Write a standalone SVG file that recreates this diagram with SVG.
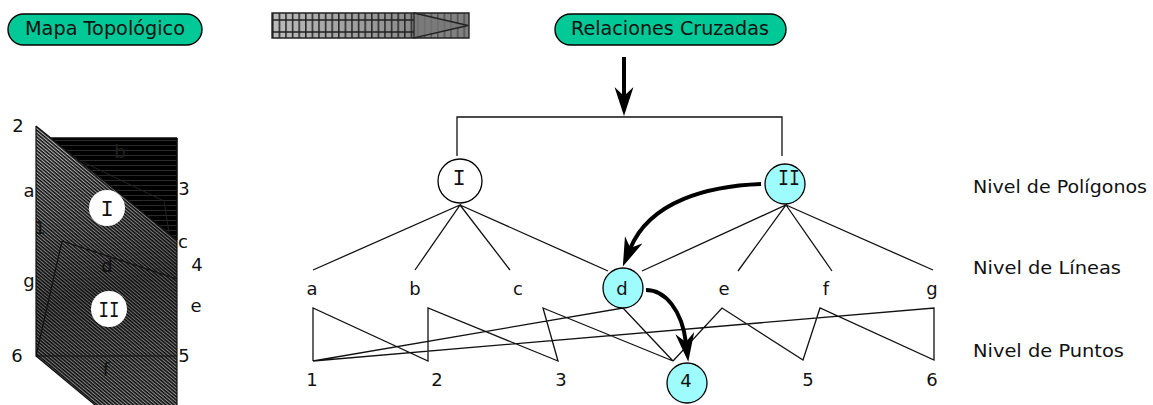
<svg xmlns="http://www.w3.org/2000/svg" width="1153" height="405" viewBox="0 0 1153 405">
<style>
text{font-family:"DejaVu Sans","Noto Sans",sans-serif;fill:#111;text-anchor:middle}
.t{font-size:19px}
.s{font-size:18px}
.r{font-size:18px;text-anchor:start}
.pill{fill:#00c896;stroke:#000;stroke-width:1.4}
.n{stroke:#000;stroke-width:1.3;fill:#fff}
.c{fill:#9ffcfc}
.l{fill:none;stroke:#111;stroke-width:1.3}
.b{fill:none;stroke:#000;stroke-width:4}
.rom{font-family:"Liberation Mono",monospace;font-size:22px}
</style>
<defs>
<pattern id="h1" width="3" height="2.6" patternUnits="userSpaceOnUse" patternTransform="rotate(40)"><rect width="3" height="2.6" fill="#b5b5b5"/><rect width="3" height="1.5" fill="#111"/></pattern>
<pattern id="h3" width="4" height="5" patternUnits="userSpaceOnUse"><rect width="4" height="5" fill="#000"/><rect width="4" height="1" fill="#2a2a2a"/></pattern>
<linearGradient id="g" x1="0" x2="1" y1="0" y2="0"><stop offset="0" stop-color="#bcbcbc"/><stop offset="1" stop-color="#777"/></linearGradient>
<linearGradient id="sh" gradientUnits="userSpaceOnUse" x1="60" y1="150" x2="130" y2="405"><stop offset="0" stop-color="#000" stop-opacity="0"/><stop offset=".55" stop-color="#000" stop-opacity=".45"/><stop offset="1" stop-color="#000" stop-opacity=".2"/></linearGradient>
<pattern id="grid" x="272" y="13" width="6.6" height="25" patternUnits="userSpaceOnUse"><path d="M0.8 0V25" stroke="#2a2a2a" stroke-width="1.6" fill="none"/></pattern>
<marker id="a" markerUnits="userSpaceOnUse" markerWidth="30" markerHeight="20" refX="10" refY="9.5" orient="auto"><path d="M0 0L29 9.5L0 19L9 9.5Z" fill="#000"/></marker>
</defs>
<g id="node-mapa"><rect class="pill" x="8" y="14" width="194" height="31" rx="15.5"/><text class="t" x="105" y="35" textLength="160" lengthAdjust="spacingAndGlyphs">Mapa Topológico</text></g>
<g id="node-flecha">
<rect x="272" y="13" width="197" height="25" fill="url(#g)"/>
<rect x="272" y="13" width="197" height="25" fill="url(#grid)"/>
<rect x="414" y="13" width="55" height="25" fill="#888" fill-opacity=".45"/>
<path d="M272 13H469V38H272ZM272 20H414M272 32H414" fill="none" stroke="#222" stroke-width="1.4"/>
<path d="M414 13L468 25.5L414 38Z" fill="#777" fill-opacity=".75" stroke="#222" stroke-width="1.3"/>
</g>
<g id="node-relaciones"><rect class="pill" x="555" y="14" width="231" height="31" rx="15.5"/><text class="t" x="670" y="35" textLength="198" lengthAdjust="spacingAndGlyphs">Relaciones Cruzadas</text></g>
<g id="mapa">
<path d="M50 138H177V240Z" fill="url(#h3)" stroke="#000"/>
<path d="M36 126L177 240V405H95L36 356Z" fill="url(#h1)"/>
<path d="M36 126L177 240V405H95L36 356Z" fill="url(#sh)"/>
<path d="M36 126V356H177M177 138V405M50 138H177M62 241L177 279M62 241L36 356M36 126L177 240M36 356L95 405" fill="none" stroke="#111" stroke-width="1.2"/>
<path d="M83 162L164 201L169 232" fill="none" stroke="#222" stroke-width="1"/>
<circle cx="107" cy="208" r="18" fill="#fff"/><text class="rom" x="107" y="216">I</text>
<circle cx="109" cy="309" r="18" fill="#fff"/><text class="rom" x="109" y="317" textLength="21" lengthAdjust="spacingAndGlyphs">II</text>
<text class="s" x="18" y="132">2</text><text class="s" x="29" y="197">a</text><text class="s" x="120" y="158" style="fill:#222">b</text><text class="s" x="184" y="195">3</text><text class="s" x="40" y="234">1</text><text class="s" x="183" y="248">c</text><text class="s" x="197" y="271">4</text><text class="s" x="107" y="272">d</text><text class="s" x="29" y="287">g</text><text class="s" x="196" y="312">e</text><text class="s" x="17" y="362">6</text><text class="s" x="184" y="362">5</text><text class="s" x="106" y="376">f</text>
</g>
<g id="conectores">
<path class="l" d="M457 156V117H782V156"/>
<path class="l" d="M313 270L460 205L415 270M460 205L510 270M460 205L608 271M642 271L786 205L738 271M786 205L832 271M786 205L933 270"/>
<path class="l" d="M313 361V308L428 361V308L558 361L543 308L673 361L623 308L313 361L934 308V360L820 308L803 360L722 308L673 361"/>
<path class="b" d="M624 57V97" marker-end="url(#a)"/>
<path class="b" d="M761 184C710 186 650 200 630 249" marker-end="url(#a)"/>
<path class="b" d="M646 290C665 290 682 310 686 343" marker-end="url(#a)"/>
</g>
<g id="node-I"><circle class="n" cx="460" cy="181" r="22"/><text class="rom" x="459" y="185">I</text></g>
<g id="node-II"><circle class="n c" cx="785" cy="184" r="20"/><text class="rom" x="789" y="185" textLength="22" lengthAdjust="spacingAndGlyphs">II</text></g>
<g id="node-d"><circle class="n c" cx="623" cy="288" r="20"/><text class="s" x="622" y="295">d</text></g>
<g id="node-4"><circle class="n c" cx="687" cy="383" r="20"/><text class="s" x="686" y="387">4</text></g>
<g id="etiquetas">
<text class="s" x="312" y="295">a</text><text class="s" x="415" y="295">b</text><text class="s" x="518" y="295">c</text><text class="s" x="724" y="295">e</text><text class="s" x="826" y="295">f</text><text class="s" x="932" y="295">g</text>
<text class="s" x="312" y="386">1</text><text class="s" x="437" y="386">2</text><text class="s" x="561" y="386">3</text><text class="s" x="808" y="386">5</text><text class="s" x="932" y="386">6</text>
<text class="r" x="973" y="193" textLength="174" lengthAdjust="spacingAndGlyphs">Nivel de Polígonos</text><text class="r" x="973" y="274" textLength="148" lengthAdjust="spacingAndGlyphs">Nivel de Líneas</text><text class="r" x="973" y="357" textLength="151" lengthAdjust="spacingAndGlyphs">Nivel de Puntos</text>
</g>
</svg>
